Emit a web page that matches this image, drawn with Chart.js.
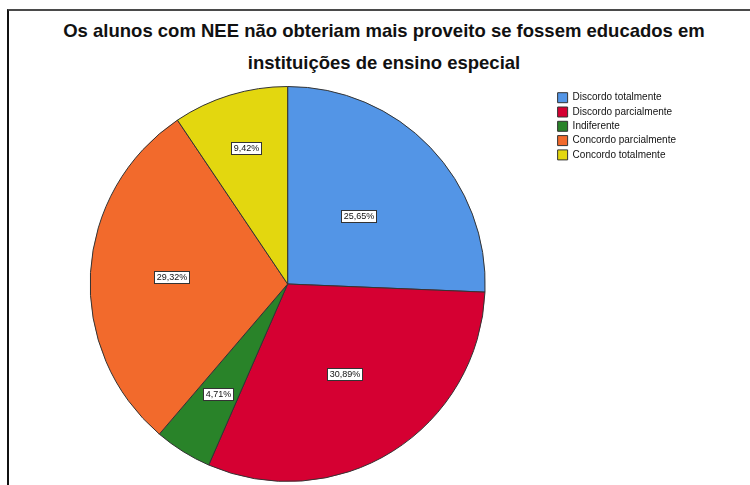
<!DOCTYPE html>
<html>
<head>
<meta charset="utf-8">
<script src="https://cdn.jsdelivr.net/npm/chart.js@4.4.0/dist/chart.umd.min.js"></script>
<style>
body{margin:0;background:#fff;overflow:hidden}
#frame{position:absolute;left:7px;top:9px;width:800px;height:600px;border-left:2px solid #111;border-top:2px solid #4a4a4a}
#title{position:absolute;left:0;top:15px;width:768px;text-align:center;font:bold 18.5px "Liberation Sans",Arial,sans-serif;line-height:32px;color:#111}
#wrap{position:absolute;left:0;top:0;width:750px;height:485px}
</style>
</head>
<body>
<div id="frame"></div>
<div id="title">Os alunos com NEE não obteriam mais proveito se fossem educados em<br>instituições de ensino especial</div>
<div id="wrap"><canvas id="graph" width="750" height="485"></canvas></div>
<script>
const categories = ['Discordo totalmente','Discordo parcialmente','Indiferente','Concordo parcialmente','Concordo totalmente'];
const counts = [49, 59, 9, 56, 18];
const percentLabels = ['25,65%','30,89%','4,71%','29,32%','9,42%'];
const sliceColors = ['#5395e6','#d50032','#298329','#f26a2c','#e3d70f'];

// white boxed percentages inside the slices
const sliceLabels = {
    id: 'sliceLabels',
    afterDatasetsDraw(chart, args, opts){
        const ctx = chart.ctx;
        const meta = chart.getDatasetMeta(0);
        ctx.save();
        ctx.font = '9px "Liberation Sans", Arial, sans-serif';
        ctx.textAlign = 'center';
        ctx.textBaseline = 'middle';
        meta.data.forEach((arc, i) => {
            const p = arc.getProps(['x','y','startAngle','endAngle','outerRadius'], true);
            const mid = (p.startAngle + p.endAngle) / 2;
            const r = p.outerRadius * opts.radial[i];
            const x = p.x + Math.cos(mid) * r;
            const y = p.y + Math.sin(mid) * r;
            const txt = percentLabels[i];
            const w = Math.round(ctx.measureText(txt).width + 4);
            const h = 12;
            const bx = Math.round(x - w / 2) + 0.5;
            const by = Math.round(y - h / 2) + 0.5;
            ctx.fillStyle = '#fff';
            ctx.fillRect(bx, by, w, h);
            ctx.strokeStyle = '#333';
            ctx.lineWidth = 1;
            ctx.strokeRect(bx, by, w, h);
            ctx.fillStyle = '#111';
            ctx.fillText(txt, bx + w / 2, by + h / 2 + 0.5);
        });
        ctx.restore();
    }
};

let myChart = document.getElementById('graph').getContext('2d');
const pieChart = new Chart(myChart, {
    type: 'pie',
    data: {
        labels: categories,
        datasets: [{
            data: counts,
            backgroundColor: sliceColors,
            borderColor: '#333',
            borderWidth: 1
        }]
    },
    options: {
        responsive: false,
        animation: false,
        devicePixelRatio: 1,
        layout: { padding: { top: 86, bottom: 3, left: 22, right: 64 } },
        plugins: {
            title: { display: false },
            tooltip: { enabled: false },
            legend: {
                position: 'right',
                align: 'start',
                title: { display: true, text: '', padding: 0, font: { size: 2 } },
                labels: {
                    boxWidth: 10,
                    boxHeight: 10,
                    padding: 4.3,
                    color: '#111',
                    font: { size: 10, family: '"Liberation Sans", Arial, sans-serif' }
                }
            },
            sliceLabels: { radial: [0.50, 0.54, 0.66, 0.59, 0.72] }
        }
    },
    plugins: [sliceLabels]
});
</script>
</body>
</html>
